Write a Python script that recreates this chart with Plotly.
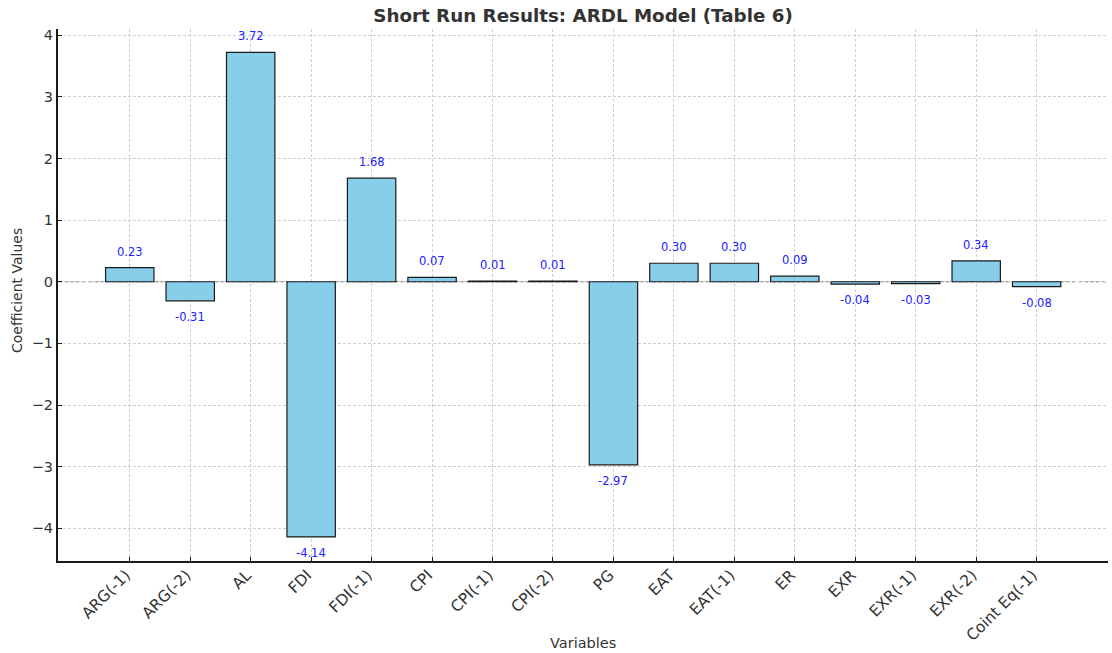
import plotly.graph_objects as go

categories = ["ARG(-1)", "ARG(-2)", "AL", "FDI", "FDI(-1)", "CPI", "CPI(-1)", "CPI(-2)",
              "PG", "EAT", "EAT(-1)", "ER", "EXR", "EXR(-1)", "EXR(-2)", "Coint Eq(-1)"]
values = [0.23, -0.31, 3.72, -4.14, 1.68, 0.07, 0.01, 0.01,
          -2.97, 0.30, 0.30, 0.09, -0.04, -0.03, 0.34, -0.08]
value_labels = [f"{v:.2f}" for v in values]

FONT = "DejaVu Sans"
TXT = "#333333"
W, H = 1112, 653
L, R, T, B = 58, 4, 29, 92

fig = go.Figure()
fig.add_trace(go.Bar(
    x=categories, y=values, width=0.8,
    marker=dict(color="#87CEEB", line=dict(color="#1a1a1a", width=1.2)),
    hoverinfo="x+y",
))

for c, v, t in zip(categories, values, value_labels):
    fig.add_annotation(
        x=c, y=v, text=t, showarrow=False,
        yshift=16 if v >= 0 else -16,
        font=dict(family=FONT, size=11.5, color="#2020ff"),
    )

fig.add_hline(y=0, line=dict(color="#777777", width=1.2, dash="4px,2px"), layer="below")

# axis titles
fig.add_annotation(xref="paper", yref="paper", x=0.5, y=0, yshift=-82,
                   text="Variables", showarrow=False, xanchor="center", yanchor="middle",
                   font=dict(family=FONT, size=14.5, color=TXT))
fig.add_annotation(xref="paper", yref="paper", x=0, y=0.5, xshift=-41, yshift=4,
                   text="Coefficient Values", showarrow=False, textangle=-90,
                   xanchor="center", yanchor="middle",
                   font=dict(family=FONT, size=14, color=TXT))

fig.update_layout(
    width=W, height=H,
    margin=dict(l=L, r=R, t=T, b=B),
    paper_bgcolor="white", plot_bgcolor="white",
    showlegend=False,
    font=dict(family=FONT, color=TXT),
    title=dict(text="<b>Short Run Results: ARDL Model (Table 6)</b>",
               x=(L + W - R) / 2 / W, xanchor="center", y=1 - 16 / H, yanchor="middle",
               font=dict(family=FONT, size=18.3, color=TXT)),
)
fig.update_xaxes(
    range=[-1.187, 16.18], automargin=False,
    tickangle=-45, tickfont=dict(size=15.5, color=TXT),
    ticklabelshift=-4, ticklabelstandoff=-3,
    showgrid=True, gridcolor="#cfcfcf", griddash="3px,2px", gridwidth=0.8,
    showline=True, linecolor="#1a1a1a", linewidth=2, mirror=False,
    ticks="inside", ticklen=4, tickcolor="#1a1a1a",
    zeroline=False,
)
fig.update_yaxes(
    range=[-4.53, 4.10], automargin=False,
    dtick=1, tick0=0,
    tickfont=dict(size=14.5, color=TXT),
    showgrid=True, gridcolor="#cfcfcf", griddash="3px,2px", gridwidth=0.8,
    showline=True, linecolor="#1a1a1a", linewidth=2, mirror=False,
    ticks="inside", ticklen=4, tickcolor="#1a1a1a",
    zeroline=False,
)

fig.write_html("out.html", config={"displayModeBar": False},
               post_script="document.body.style.margin='0';document.body.style.overflow='hidden';")
